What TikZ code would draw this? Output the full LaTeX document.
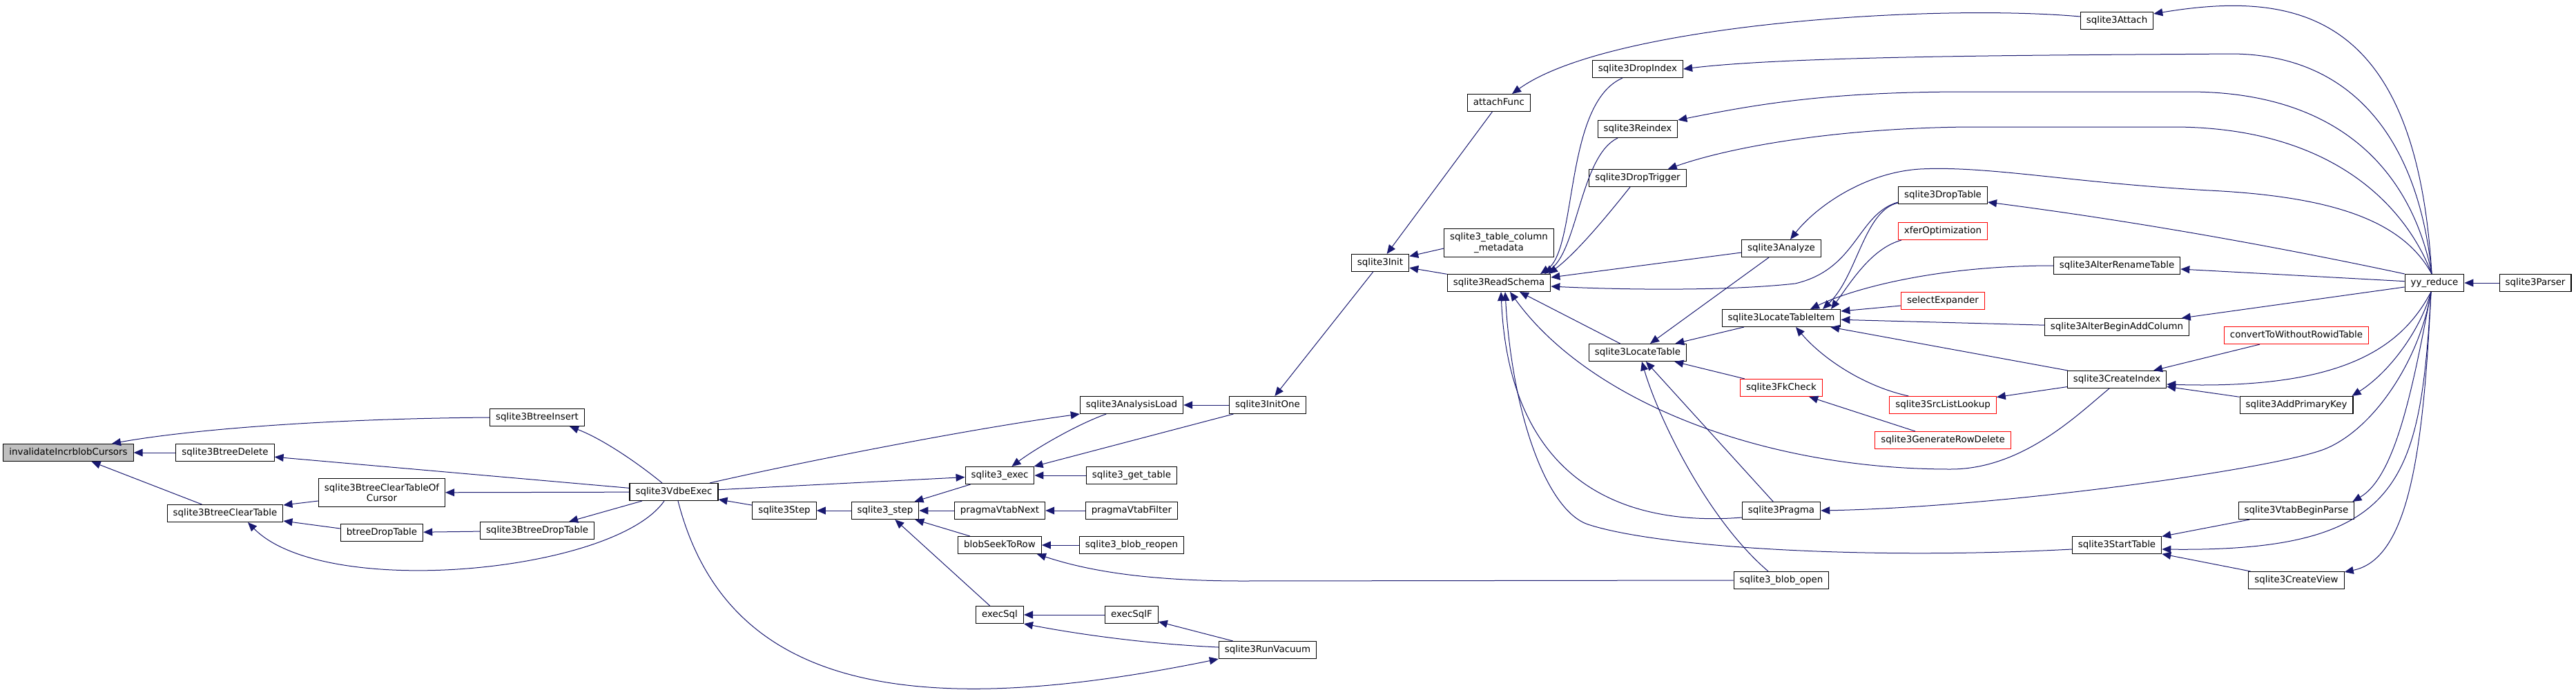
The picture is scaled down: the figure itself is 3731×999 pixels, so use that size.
\documentclass[tikz,border=0pt]{standalone}
\usepackage{fontspec}
\setmainfont{DejaVu Sans}
\usetikzlibrary{arrows.meta,calc,positioning}
\definecolor{edgeblue}{RGB}{25,25,112}
\definecolor{rootgray}{RGB}{191,191,191}
\definecolor{truncred}{RGB}{255,0,0}
\newcommand{\fnfont}{\fontsize{13.4}{15.5}\selectfont}

\begin{document}
\begin{tikzpicture}[x=1pt,y=-1pt,font=\fnfont,
    fnbox/.style={draw=black,fill=white,line width=1.1pt,inner xsep=8.5pt,inner ysep=0pt},
    fn/.style={fnbox,minimum height=25pt,text height=10pt,text depth=3pt},
    fntwo/.style={fnbox,align=center,minimum height=41pt},
    trunc/.style={fn,draw=truncred},
    focus/.style={fn,fill=rootgray},
    call/.style={draw=edgeblue,line width=1pt,-{Triangle[length=13pt,width=11pt]}}]
  \useasboundingbox (0,0) rectangle (3731,999);

  % Btree side, left of the VDBE.
  \node[focus] (inv) at (99,656) {invalidateIncrblobCursors};
  \node[fn] (btDelete) at (326,656) {sqlite3BtreeDelete};
  \node[fn] (btClear) at (326,744) {sqlite3BtreeClearTable};
  \node[fntwo] (btClearCur) at (553,714) {sqlite3BtreeClearTableOf\\Cursor};
  \node[fn] (btreeDrop) at (553,772) {btreeDropTable};
  \node[fn] (btInsert) at (778,605) {sqlite3BtreeInsert};
  \node[fn] (btDrop) at (778,769) {sqlite3BtreeDropTable};
  \node[fn] (vdbeExec) at (976,713) {sqlite3VdbeExec};

  % Statement stepping and exec helpers.
  \node[fn] (step) at (1136,740) {sqlite3Step};
  \node[fn] (stepApi) at (1282,740) {sqlite3\_step};
  \node[fn] (exec) at (1448,689) {sqlite3\_exec};
  \node[fn] (vtabNext) at (1448,740) {pragmaVtabNext};
  \node[fn] (seekRow) at (1448,790) {blobSeekToRow};
  \node[fn] (execSql) at (1448,891) {execSql};
  \node[fn] (anLoad) at (1639,587) {sqlite3AnalysisLoad};
  \node[fn] (getTable) at (1639,689) {sqlite3\_get\_table};
  \node[fn] (vtabFilter) at (1639,740) {pragmaVtabFilter};
  \node[fn] (blobReopen) at (1639,790) {sqlite3\_blob\_reopen};
  \node[fn] (execSqlF) at (1639,891) {execSqlF};
  \node[fn] (initOne) at (1836,587) {sqlite3InitOne};
  \node[fn] (vacuum) at (1836,942) {sqlite3RunVacuum};

  % Schema loading.
  \node[fn] (init) at (1999,381) {sqlite3Init};
  \node[fn] (attach) at (2171,149) {attachFunc};
  \node[fntwo] (colMeta) at (2171,352) {sqlite3\_table\_column\\\_metadata};
  \node[fn] (readSchema) at (2171,410) {sqlite3ReadSchema};
  \node[fn] (dropIndex) at (2372,100) {sqlite3DropIndex};
  \node[fn] (reindex) at (2372,187) {sqlite3Reindex};
  \node[fn] (dropTrigger) at (2372,258) {sqlite3DropTrigger};
  \node[fn] (locTable) at (2372,511) {sqlite3LocateTable};
  \node[fn] (analyze) at (2580,360) {sqlite3Analyze};
  \node[fn] (locItem) at (2580,461) {sqlite3LocateTableItem};
  \node[trunc] (fkCheck) at (2580,562) {sqlite3FkCheck};
  \node[fn] (pragma) at (2580,740) {sqlite3Pragma};
  \node[fn] (blobOpen) at (2580,841) {sqlite3\_blob\_open};
  \node[fn] (dropTable) at (2814,283) {sqlite3DropTable};
  \node[trunc] (xfer) at (2814,335) {xferOptimization};
  \node[trunc] (selExp) at (2814,436) {selectExpander};
  \node[trunc] (srcLookup) at (2814,587) {sqlite3SrcListLookup};
  \node[trunc] (genRowDel) at (2814,638) {sqlite3GenerateRowDelete};

  % Parser actions.
  \node[fn] (sqlAttach) at (3066,30) {sqlite3Attach};
  \node[fn] (alterRename) at (3066,385) {sqlite3AlterRenameTable};
  \node[fn] (alterAdd) at (3066,474) {sqlite3AlterBeginAddColumn};
  \node[fn] (createIndex) at (3066,550) {sqlite3CreateIndex};
  \node[fn] (startTable) at (3066,790) {sqlite3StartTable};
  \node[trunc] (convWR) at (3326,486) {convertToWithoutRowidTable};
  \node[fn] (addPK) at (3326,587) {sqlite3AddPrimaryKey};
  \node[fn] (vtabBegin) at (3326,740) {sqlite3VtabBeginParse};
  \node[fn] (createView) at (3326,841) {sqlite3CreateView};
  \node[fn] (yyReduce) at (3526,410) {yy\_reduce};
  \node[fn] (parser) at (3672,410) {sqlite3Parser};

  % Btree callers.
  \draw[call] (btInsert.west) .. controls (450,607) and (260,625) .. ($(inv.north)+(63,0)$);
  \draw[call] (btDelete) -- (inv);
  \draw[call] (btClear) -- (inv);
  \draw[call] ($(btClearCur.west)+(0,12)$) -- ($(btClear.east)+(0,-12)$);
  \draw[call] ($(btreeDrop.west)+(0,-6)$) -- ($(btClear.east)+(0,11)$);
  \draw[call] (btDrop) -- (btreeDrop);
  \draw[call] (vdbeExec) -- (btDelete);
  \draw[call] ($(vdbeExec.north)+(-17,0)$) .. controls (920,668) and (870,635) .. ($(btInsert.south)+(47,0)$);
  \draw[call] (vdbeExec) -- (btClearCur);
  \draw[call] (vdbeExec) -- (btDrop);
  \draw[call] ($(vdbeExec.south)+(-14,0)$) .. controls (890,830) and (470,870) .. ($(btClear.south)+(33,0)$);

  % Stepping.
  \draw[call] (step) -- (vdbeExec);
  \draw[call] (stepApi) -- (step);
  \draw[call] (exec) -- (stepApi);
  \draw[call] (vtabNext) -- (stepApi);
  \draw[call] (seekRow) -- (stepApi);
  \draw[call] (execSql) -- (stepApi);
  \draw[call] (getTable) -- (exec);
  \draw[call] (vtabFilter) -- (vtabNext);
  \draw[call] (blobReopen) -- (seekRow);
  \draw[call] (execSqlF) -- (execSql);
  \draw[call] ($(vacuum.west)+(0,-4)$) .. controls (1640,932) and (1540,915) .. (execSql.south east);
  \draw[call] (vacuum) -- (execSqlF);

  % Back edges out of the VDBE.
  \draw[call] (vdbeExec) -- (exec);
  \draw[call] ($(vdbeExec.north)+(52,0)$) .. controls (1150,672) and (1400,622) .. (anLoad.south west);
  \draw[call] ($(vdbeExec.south)+(6,0)$) .. controls (1050,990) and (1300,1050) .. (vacuum.south west);

  % Init and analysis load.
  \draw[call] (anLoad) .. controls (1560,615) and (1500,650) .. (exec);
  \draw[call] (initOne) -- (exec);
  \draw[call] (initOne) -- (anLoad);
  \draw[call] (init) -- (initOne);
  \draw[call] (attach) -- (init);
  \draw[call] ($(colMeta.west)+(0,8)$) -- (init);
  \draw[call] (readSchema) -- (init);
  \draw[call] ($(sqlAttach.west)+(0,-6)$) .. controls (2800,5) and (2330,35) .. ($(attach.north)+(19,0)$);

  % Callers of sqlite3ReadSchema.
  \draw[call] ($(dropIndex.south)+(-22,0)$) .. controls (2265,150) and (2285,360) .. ($(readSchema.north)+(60,0)$);
  \draw[call] ($(reindex.south)+(-29,0)$) .. controls (2290,225) and (2285,360) .. ($(readSchema.north)+(66,0)$);
  \draw[call] ($(dropTrigger.south)+(-11,0)$) .. controls (2330,310) and (2285,365) .. ($(readSchema.north)+(72,0)$);
  \draw[call] ($(analyze.west)+(0,6)$) -- ($(readSchema.east)+(0,-8)$);
  \draw[call] ($(dropTable.west)+(0,10)$) .. controls (2690,310) and (2690,390) .. (2600,411)
    .. controls (2500,422) and (2350,420) .. ($(readSchema.east)+(0,5)$);
  \draw[call] (locTable) -- ($(readSchema.south)+(30,0)$);
  \draw[call] ($(createIndex.south)+(-11,0)$) .. controls (3010,600) and (2930,680) .. (2825,680)
    .. controls (2550,680) and (2300,580) .. ($(readSchema.south)+(16,0)$);
  \draw[call] ($(pragma.west)+(0,10)$) .. controls (2330,765) and (2185,680) .. ($(readSchema.south)+(3,0)$);
  \draw[call] ($(startTable.west)+(0,6)$) .. controls (2700,812) and (2400,793) .. (2300,760)
    .. controls (2240,740) and (2190,600) .. ($(readSchema.south)+(9,0)$);

  % Callers of sqlite3LocateTable.
  \draw[call] (analyze) -- (locTable);
  \draw[call] (locItem) -- (locTable);
  \draw[call] (fkCheck) -- (locTable);
  \draw[call] (pragma) -- (locTable);
  \draw[call] ($(blobOpen.north)+(-19,0)$) .. controls (2470,750) and (2400,600) .. ($(locTable.south)+(6,0)$);
  \draw[call] (blobOpen.west) -- (1800,842) .. controls (1640,842) and (1560,822) .. ($(seekRow.south east)+(-7,0)$);

  % Callers of sqlite3LocateTableItem.
  \draw[call] ($(dropTable.west)+(0,11)$) .. controls (2700,305) and (2690,400) .. ($(locItem.north)+(60,0)$);
  \draw[call] ($(xfer.south west)+(5,0)$) .. controls (2710,360) and (2680,410) .. ($(locItem.north)+(72,0)$);
  \draw[call] (alterRename.west) .. controls (2800,385) and (2680,420) .. ($(locItem.north)+(42,0)$);
  \draw[call] ($(selExp.west)+(0,7)$) -- ($(locItem.east)+(0,-10)$);
  \draw[call] (alterAdd) -- (locItem);
  \draw[call] (createIndex) -- (locItem);
  \draw[call] ($(srcLookup.north west)+(28,0)$) .. controls (2700,560) and (2640,520) .. ($(locItem.south)+(21,0)$);
  \draw[call] (createIndex) -- (srcLookup);
  \draw[call] (genRowDel) -- (fkCheck);

  % CreateIndex and StartTable callers.
  \draw[call] (convWR) -- (createIndex);
  \draw[call] (addPK) -- (createIndex);
  \draw[call] (vtabBegin) -- (startTable);
  \draw[call] (createView) -- (startTable);
  \draw[call] (parser) -- (yyReduce);

  % Everything the parser reduces into.
  \coordinate (yyTop) at ($(yyReduce.north)+(-4,0)$);
  \coordinate (yyBot) at ($(yyReduce.south)+(-5,0)$);
  \draw[call] (yyTop) .. controls (3500,20) and (3330,-15) .. ($(sqlAttach.north east)+(0,3)$);
  \draw[call] (yyTop) .. controls (3505,220) and (3420,78) .. (3230,78)
    .. controls (3000,80) and (2600,80) .. (dropIndex.east);
  \draw[call] (yyTop) .. controls (3495,260) and (3400,133) .. (3170,133) -- (2850,133)
    .. controls (2650,133) and (2550,150) .. (reindex.north east);
  \draw[call] (yyTop) .. controls (3485,300) and (3380,185) .. (3150,184) -- (2850,184)
    .. controls (2650,186) and (2500,215) .. ($(dropTrigger.north east)+(-27,0)$);
  \draw[call] (yyTop) .. controls (3480,320) and (3380,285) .. (3200,276)
    .. controls (3000,265) and (2880,240) .. (2781,245)
    .. controls (2700,250) and (2630,300) .. ($(analyze.north)+(13,0)$);
  \draw[call] (yyReduce.north west) .. controls (3380,375) and (3150,328) .. ($(dropTable.east)+(0,10)$);
  \draw[call] (yyReduce) -- (alterRename);
  \draw[call] (yyReduce) -- (alterAdd);
  \draw[call] (yyBot) .. controls (3480,500) and (3400,565) .. ($(createIndex.east)+(0,7)$);
  \draw[call] (yyBot) .. controls (3505,480) and (3460,540) .. ($(addPK.north east)+(-2,0)$);
  \draw[call] (yyBot) .. controls (3505,520) and (3440,620) .. (3369,650)
    .. controls (3300,679) and (2900,735) .. (pragma.east);
  \draw[call] (yyBot) .. controls (3495,560) and (3470,690) .. ($(vtabBegin.north east)+(-3,0)$);
  \draw[call] (yyBot) .. controls (3505,700) and (3480,800) .. ($(startTable.east)+(0,6)$);
  \draw[call] (yyBot) .. controls (3510,650) and (3490,810) .. ($(createView.north east)+(0,1)$);
\end{tikzpicture}
\end{document}
